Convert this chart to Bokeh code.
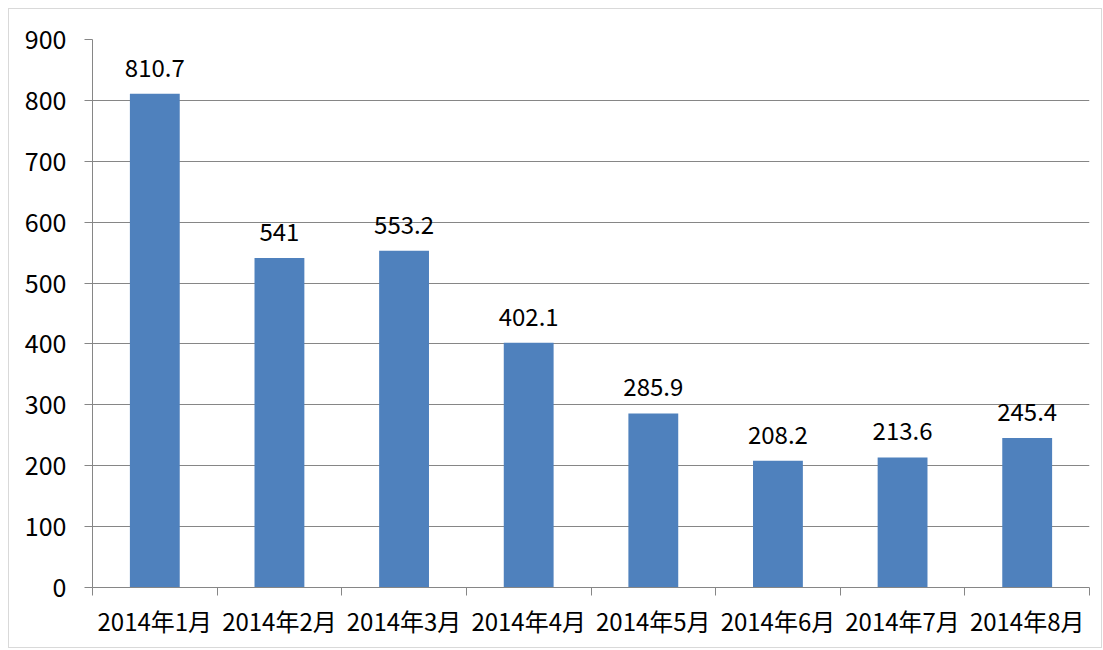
from bokeh.plotting import figure
from bokeh.models import ColumnDataSource, Range1d, FixedTicker
from bokeh.core.properties import value
from bokeh.embed import file_html
from bokeh.resources import INLINE

categories = ["2014年1月", "2014年2月", "2014年3月", "2014年4月",
              "2014年5月", "2014年6月", "2014年7月", "2014年8月"]
values = [810.7, 541, 553.2, 402.1, 285.9, 208.2, 213.6, 245.4]
y_ticks = [0, 100, 200, 300, 400, 500, 600, 700, 800, 900]

FONT = "Noto Sans CJK SC"
BAR = "#4F81BD"
GRID = "#868686"

xs = [i + 0.5 for i in range(len(categories))]
labels = [("%g" % v) for v in values]
src = ColumnDataSource(dict(x=xs, top=values, label=labels))

p = figure(width=1094, height=640, output_backend="svg", toolbar_location=None,
           x_range=Range1d(0, len(categories)), y_range=Range1d(0, 900))
p.min_border_left = 83
p.min_border_right = 14
p.min_border_top = 30
p.min_border_bottom = 62
p.outline_line_color = None
p.background_fill_color = "white"
p.border_fill_color = "white"
p.styles = {"border": "1px solid #d9d9d9", "box-sizing": "border-box",
            "margin-left": "8px", "margin-top": "8px"}

p.vbar(x="x", top="top", width=0.4, bottom=0, source=src,
       fill_color=BAR, line_color=None)
p.text(x="x", y="top", text="label", source=src, text_align="center",
       text_baseline="bottom", y_offset=-17, text_font=value(FONT),
       text_font_size="24px", text_color="black")

# y axis
p.yaxis.ticker = FixedTicker(ticks=y_ticks)
p.yaxis.axis_line_color = GRID
p.yaxis.major_tick_line_color = GRID
p.yaxis.major_tick_out = 8
p.yaxis.major_tick_in = 0
p.yaxis.minor_tick_line_color = None
p.yaxis.major_label_text_font = FONT
p.yaxis.major_label_text_font_size = "25px"
p.yaxis.major_label_text_color = "black"
p.yaxis.major_label_standoff = 18

# x axis
p.xaxis.ticker = FixedTicker(ticks=xs, minor_ticks=list(range(len(categories) + 1)))
p.xaxis.major_label_overrides = {x: c for x, c in zip(xs, categories)}
p.xaxis.axis_line_color = GRID
p.xaxis.major_tick_line_color = None
p.xaxis.major_tick_out = 0
p.xaxis.major_tick_in = 0
p.xaxis.minor_tick_line_color = GRID
p.xaxis.minor_tick_out = 8
p.xaxis.minor_tick_in = 0
p.xaxis.major_label_text_font = FONT
p.xaxis.major_label_text_font_size = "24px"
p.xaxis.major_label_text_color = "black"
p.xaxis.major_label_standoff = 7

p.xgrid.grid_line_color = None
p.ygrid.grid_line_color = GRID
p.ygrid.grid_line_width = 1

open("out.html", "w").write(file_html(p, INLINE))
